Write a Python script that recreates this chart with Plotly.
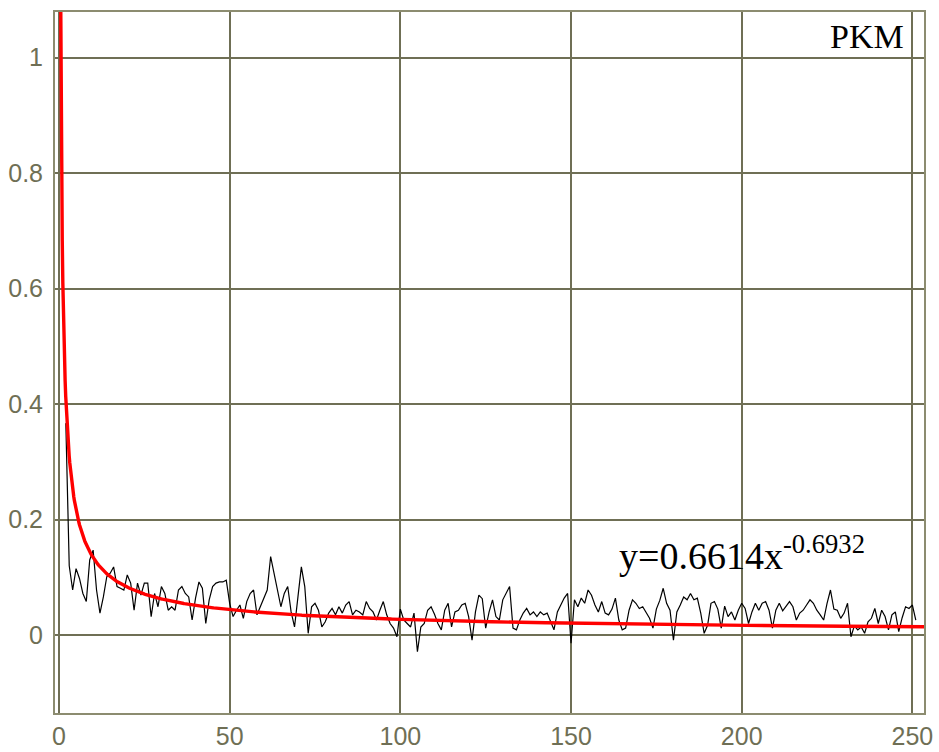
import numpy as np
import plotly.graph_objects as go

# Measured series (index starts at 2)
x_start = 2
values = [
    0.367, 0.12, 0.078, 0.115, 0.098, 0.072, 0.058, 0.13, 0.147,
    0.078, 0.038, 0.066, 0.101, 0.107, 0.118, 0.084, 0.081, 0.078, 0.104,
    0.09, 0.043, 0.09, 0.069, 0.09, 0.09, 0.032, 0.072, 0.049, 0.084,
    0.072, 0.043, 0.049, 0.043, 0.078, 0.084, 0.072, 0.066, 0.026, 0.064,
    0.092, 0.081, 0.02, 0.061, 0.084, 0.09, 0.092, 0.092, 0.095, 0.055,
    0.032, 0.043, 0.052, 0.029, 0.058, 0.072, 0.078, 0.035, 0.049, 0.061,
    0.078, 0.136, 0.107, 0.084, 0.049, 0.072, 0.084, 0.04, 0.014, 0.066,
    0.118, 0.084, 0.003, 0.049, 0.055, 0.043, 0.014, 0.023, 0.038, 0.046,
    0.035, 0.049, 0.038, 0.052, 0.058, 0.035, 0.043, 0.04, 0.035, 0.058,
    0.046, 0.04, 0.026, 0.043, 0.058, 0.035, 0.02, 0.012, -0.003, 0.045,
    0.026, 0.02, 0.014, 0.038, -0.029, 0.014, 0.02, 0.043, 0.049, 0.036,
    0.02, 0.009, 0.043, 0.055, 0.014, 0.04, 0.043, 0.052, 0.055, 0.032,
    -0.009, 0.04, 0.069, 0.063, 0.012, 0.04, 0.061, 0.032, 0.026, 0.061,
    0.072, 0.084, 0.012, 0.009, 0.026, 0.038, 0.046, 0.035, 0.04, 0.032,
    0.04, 0.035, 0.038, 0.023, 0.009, 0.04, 0.052, 0.064, 0.072, -0.014,
    0.061, 0.049, 0.064, 0.055, 0.078, 0.069, 0.052, 0.04, 0.058, 0.038,
    0.035, 0.045, 0.064, 0.026, 0.009, 0.012, 0.043, 0.061, 0.055, 0.046,
    0.049, 0.04, 0.029, 0.012, 0.045, 0.06, 0.081, 0.055, 0.043, -0.009,
    0.04, 0.052, 0.066, 0.061, 0.072, 0.061, 0.064, 0.038, 0.003, 0.017,
    0.055, 0.058, 0.045, 0.012, 0.05, 0.032, 0.04, 0.026, 0.043, 0.055,
    0.046, 0.02, 0.04, 0.055, 0.043, 0.055, 0.058, 0.043, 0.012, 0.043,
    0.055, 0.042, 0.049, 0.058, 0.049, 0.026, 0.038, 0.043, 0.052, 0.061,
    0.055, 0.043, 0.035, 0.026, 0.055, 0.078, 0.045, 0.043, 0.029, 0.038,
    0.055, -0.003, 0.016, 0.009, 0.014, 0.003, 0.023, 0.029, 0.046, 0.02,
    0.043, 0.032, 0.009, 0.035, 0.04, 0.006, 0.03, 0.049, 0.046, 0.052,
    0.026,
]
x_values = list(range(x_start, x_start + len(values)))

# Power-law fit y = a * x^b
fit_a = 0.6614
fit_b = -0.6932
fit_x = np.linspace(0.45, 253.4, 1500)
fit_y = fit_a * fit_x ** fit_b

x_ticks = [0, 50, 100, 150, 200, 250]
y_ticks = [0, 0.2, 0.4, 0.6, 0.8, 1]

grid_color = "#6f6f55"
frame_color = "#8c8c70"

fig = go.Figure()
fig.add_trace(go.Scatter(
    x=x_values, y=values, mode="lines",
    line=dict(color="black", width=1.2), hoverinfo="skip",
))
fig.add_trace(go.Scatter(
    x=fit_x, y=fit_y, mode="lines",
    line=dict(color="#ff0000", width=3.4), hoverinfo="skip",
))

fig.add_annotation(
    x=248.0, y=1.036, xref="x", yref="y", text="PKM", showarrow=False,
    xanchor="right", yanchor="middle",
    font=dict(family="Liberation Serif", size=34, color="black"),
)
fig.add_annotation(
    x=163.5, y=0.142, xref="x", yref="y",
    text="y=0.6614x<sup>-0.6932</sup>", showarrow=False,
    xanchor="left", yanchor="middle",
    font=dict(family="Liberation Serif", size=38, color="black"),
)

fig.update_layout(
    width=939, height=752,
    margin=dict(l=55, r=15, t=12, b=39),
    paper_bgcolor="white", plot_bgcolor="white",
    showlegend=False,
    font=dict(family="Liberation Sans", color=grid_color),
)
fig.update_xaxes(
    range=[-1.17, 253.4], tickvals=x_ticks, automargin=False,
    showgrid=True, gridcolor=grid_color, gridwidth=1.5,
    zeroline=False, showline=True, mirror=True,
    linecolor=frame_color, linewidth=2,
    ticks="", ticklabelstandoff=0,
    tickfont=dict(family="Liberation Sans", size=25, color=grid_color),
)
fig.update_yaxes(
    range=[-0.135, 1.079], tickvals=y_ticks, automargin=False,
    showgrid=True, gridcolor=grid_color, gridwidth=1.5,
    zeroline=False, showline=True, mirror=True,
    linecolor=frame_color, linewidth=2,
    ticks="", ticklabelstandoff=5,
    tickfont=dict(family="Liberation Sans", size=25, color=grid_color),
)

fig.write_html("out.html")
